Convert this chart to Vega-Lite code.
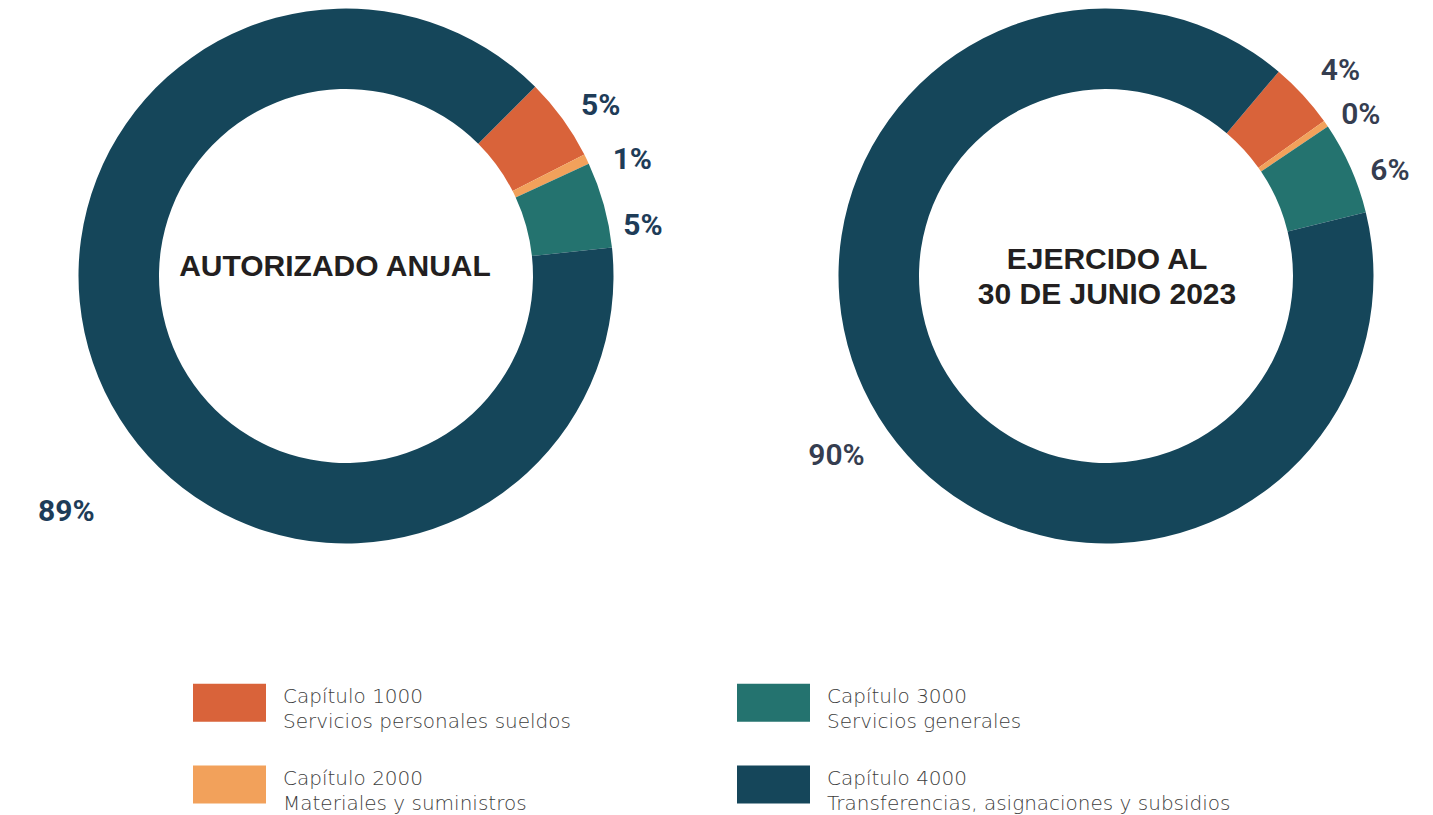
{
  "$schema": "https://vega.github.io/schema/vega-lite/v6.json",
  "padding": 0,
  "background": "white",
  "spacing": 114,
  "datasets": {
    "presupuesto": [
      {"panel": "AUTORIZADO ANUAL", "capitulo": "Capítulo 1000", "concepto": "Servicios personales sueldos", "participacion": 0.050},
      {"panel": "AUTORIZADO ANUAL", "capitulo": "Capítulo 2000", "concepto": "Materiales y suministros", "participacion": 0.006},
      {"panel": "AUTORIZADO ANUAL", "capitulo": "Capítulo 3000", "concepto": "Servicios generales", "participacion": 0.052},
      {"panel": "AUTORIZADO ANUAL", "capitulo": "Capítulo 4000", "concepto": "Transferencias, asignaciones y subsidios", "participacion": 0.892},
      {"panel": "EJERCIDO AL\n30 DE JUNIO 2023", "capitulo": "Capítulo 1000", "concepto": "Servicios personales sueldos", "participacion": 0.040},
      {"panel": "EJERCIDO AL\n30 DE JUNIO 2023", "capitulo": "Capítulo 2000", "concepto": "Materiales y suministros", "participacion": 0.004},
      {"panel": "EJERCIDO AL\n30 DE JUNIO 2023", "capitulo": "Capítulo 3000", "concepto": "Servicios generales", "participacion": 0.056},
      {"panel": "EJERCIDO AL\n30 DE JUNIO 2023", "capitulo": "Capítulo 4000", "concepto": "Transferencias, asignaciones y subsidios", "participacion": 0.900}
    ]
  },
  "hconcat": [
    {
      "width": 692,
      "height": 552,
      "data": {"name": "presupuesto"},
      "transform": [
        {"filter": "datum.panel === 'AUTORIZADO ANUAL'"},
        {"stack": "participacion", "groupby": [], "sort": [{"field": "capitulo"}], "as": ["t0", "t1"]},
        {"calculate": "(datum.t0 + datum.t1) / 2", "as": "tm"},
        {"calculate": "datum.capitulo + '|' + datum.concepto", "as": "rubro"}
      ],
      "layer": [
        {
          "mark": {"type": "arc", "innerRadius": 187, "outerRadius": 267.5},
          "encoding": {
            "theta": {"field": "t0", "type": "quantitative", "scale": {"domain": [0, 1], "range": [0.7854, 7.0686]}},
            "theta2": {"field": "t1"},
            "color": {
              "field": "rubro",
              "type": "nominal",
              "scale": {
                "domain": ["Capítulo 1000|Servicios personales sueldos", "Capítulo 2000|Materiales y suministros", "Capítulo 3000|Servicios generales", "Capítulo 4000|Transferencias, asignaciones y subsidios"],
                "range": ["#d9633a", "#f2a15b", "#24736f", "#15465a"]
              },
              "legend": {
                "orient": "none", "legendX": 193, "legendY": 666, "columns": 2, "title": null,
                "symbolType": "M-1,-0.52H1V0.52H-1Z", "symbolSize": 5329, "symbolStrokeWidth": 0, "symbolOpacity": 1,
                "labelFont": "DejaVu Sans", "labelFontSize": 20, "labelFontWeight": 200, "labelColor": "#3d3d3d",
                "labelOffset": 17, "labelLimit": 0, "columnPadding": 166, "rowPadding": 16, "padding": 0,
                "labelBaseline": "alphabetic",
                "labelExpr": "split(datum.label, '|')"
              }
            }
          }
        },
        {
          "transform": [{"filter": "datum.capitulo === 'Capítulo 1000'"}],
          "mark": {"type": "text", "font": "Liberation Sans", "fontWeight": "bold", "fontSize": 30, "color": "#231f20", "align": "center", "baseline": "middle", "dx": -11, "dy": -9},
          "encoding": {"text": {"field": "panel"}}
        },
        {
          "transform": [{"filter": "datum.capitulo === 'Capítulo 1000'"}],
          "mark": {"type": "text", "font": "Roboto", "fontWeight": "bold", "fontSize": 30, "color": "#1e3c58", "align": "center", "baseline": "middle", "radius": 305, "dx": 8, "dy": 9},
          "encoding": {"theta": {"field": "tm", "type": "quantitative", "scale": {"domain": [0, 1], "range": [0.7854, 7.0686]}}, "text": {"field": "participacion", "format": ".0%"}}
        },
        {
          "transform": [{"filter": "datum.capitulo === 'Capítulo 2000'"}],
          "mark": {"type": "text", "font": "Roboto", "fontWeight": "bold", "fontSize": 30, "color": "#1e3c58", "align": "center", "baseline": "middle", "radius": 305, "dx": 12, "dy": 17},
          "encoding": {"theta": {"field": "tm", "type": "quantitative", "scale": {"domain": [0, 1], "range": [0.7854, 7.0686]}}, "text": {"field": "participacion", "format": ".0%"}}
        },
        {
          "transform": [{"filter": "datum.capitulo === 'Capítulo 3000'"}],
          "mark": {"type": "text", "font": "Roboto", "fontWeight": "bold", "fontSize": 30, "color": "#1e3c58", "align": "center", "baseline": "middle", "radius": 305, "dx": 3, "dy": 31},
          "encoding": {"theta": {"field": "tm", "type": "quantitative", "scale": {"domain": [0, 1], "range": [0.7854, 7.0686]}}, "text": {"field": "participacion", "format": ".0%"}}
        },
        {
          "transform": [{"filter": "datum.capitulo === 'Capítulo 4000'"}],
          "mark": {"type": "text", "font": "Roboto", "fontWeight": "bold", "fontSize": 30, "color": "#1e3c58", "align": "center", "baseline": "middle", "radius": 330, "dx": 18, "dy": 94},
          "encoding": {"theta": {"field": "tm", "type": "quantitative", "scale": {"domain": [0, 1], "range": [0.7854, 7.0686]}}, "text": {"field": "participacion", "format": ".0%"}}
        }
      ]
    },
    {
      "width": 600,
      "height": 552,
      "data": {"name": "presupuesto"},
      "transform": [
        {"filter": "datum.panel !== 'AUTORIZADO ANUAL'"},
        {"stack": "participacion", "groupby": [], "sort": [{"field": "capitulo"}], "as": ["t0", "t1"]},
        {"calculate": "(datum.t0 + datum.t1) / 2", "as": "tm"},
        {"calculate": "datum.capitulo + '|' + datum.concepto", "as": "rubro"}
      ],
      "layer": [
        {
          "mark": {"type": "arc", "innerRadius": 187, "outerRadius": 267.5},
          "encoding": {
            "theta": {"field": "t0", "type": "quantitative", "scale": {"domain": [0, 1], "range": [0.7016, 6.9848]}},
            "theta2": {"field": "t1"},
            "color": {
              "field": "rubro",
              "type": "nominal",
              "scale": {
                "domain": ["Capítulo 1000|Servicios personales sueldos", "Capítulo 2000|Materiales y suministros", "Capítulo 3000|Servicios generales", "Capítulo 4000|Transferencias, asignaciones y subsidios"],
                "range": ["#d9633a", "#f2a15b", "#24736f", "#15465a"]
              },
              "legend": {
                "orient": "none", "legendX": 193, "legendY": 666, "columns": 2, "title": null,
                "symbolType": "M-1,-0.52H1V0.52H-1Z", "symbolSize": 5329, "symbolStrokeWidth": 0, "symbolOpacity": 1,
                "labelFont": "DejaVu Sans", "labelFontSize": 20, "labelFontWeight": 200, "labelColor": "#3d3d3d",
                "labelOffset": 17, "labelLimit": 0, "columnPadding": 166, "rowPadding": 16, "padding": 0,
                "labelBaseline": "alphabetic",
                "labelExpr": "split(datum.label, '|')"
              }
            }
          }
        },
        {
          "transform": [{"filter": "datum.capitulo === 'Capítulo 1000'"}],
          "mark": {"type": "text", "font": "Liberation Sans", "fontWeight": "bold", "fontSize": 30, "color": "#231f20", "align": "center", "baseline": "middle", "lineBreak": "\n", "lineHeight": 35, "dx": 1, "dy": -16},
          "encoding": {"text": {"field": "panel"}}
        },
        {
          "transform": [{"filter": "datum.capitulo === 'Capítulo 1000'"}],
          "mark": {"type": "text", "font": "Roboto", "fontWeight": 600, "fontSize": 30, "color": "#353d50", "align": "center", "baseline": "middle", "radius": 305, "dx": 10, "dy": 1},
          "encoding": {"theta": {"field": "tm", "type": "quantitative", "scale": {"domain": [0, 1], "range": [0.7016, 6.9848]}}, "text": {"field": "participacion", "format": ".0%"}}
        },
        {
          "transform": [{"filter": "datum.capitulo === 'Capítulo 2000'"}],
          "mark": {"type": "text", "font": "Roboto", "fontWeight": 600, "fontSize": 30, "color": "#353d50", "align": "center", "baseline": "middle", "radius": 305, "dx": 4, "dy": 13},
          "encoding": {"theta": {"field": "tm", "type": "quantitative", "scale": {"domain": [0, 1], "range": [0.7016, 6.9848]}}, "text": {"field": "participacion", "format": ".0%"}}
        },
        {
          "transform": [{"filter": "datum.capitulo === 'Capítulo 3000'"}],
          "mark": {"type": "text", "font": "Roboto", "fontWeight": 600, "fontSize": 30, "color": "#353d50", "align": "center", "baseline": "middle", "radius": 305, "dx": 5, "dy": 18},
          "encoding": {"theta": {"field": "tm", "type": "quantitative", "scale": {"domain": [0, 1], "range": [0.7016, 6.9848]}}, "text": {"field": "participacion", "format": ".0%"}}
        },
        {
          "transform": [{"filter": "datum.capitulo === 'Capítulo 4000'"}],
          "mark": {"type": "text", "font": "Roboto", "fontWeight": 600, "fontSize": 30, "color": "#353d50", "align": "center", "baseline": "middle", "radius": 330, "dx": 11, "dy": 6},
          "encoding": {"theta": {"field": "tm", "type": "quantitative", "scale": {"domain": [0, 1], "range": [0.7016, 6.9848]}}, "text": {"field": "participacion", "format": ".0%"}}
        }
      ]
    }
  ],
  "config": {
    "view": {"stroke": null},
    "style": {"guide-label": {"lineHeight": 25}}
  }
}
